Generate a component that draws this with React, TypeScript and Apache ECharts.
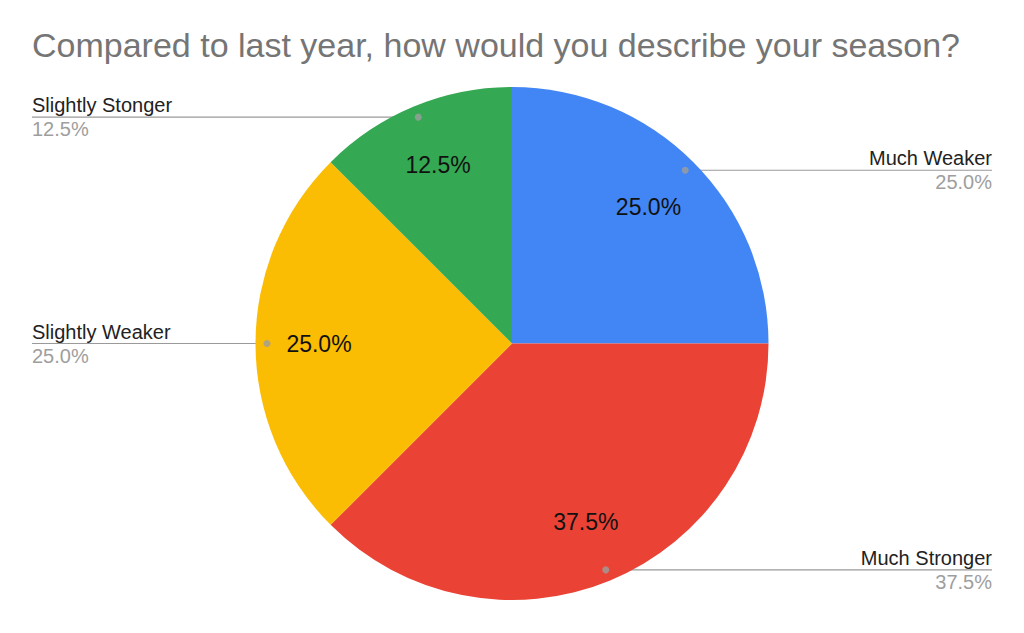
import React, { useEffect, useRef } from "react";
import * as echarts from "echarts";

const titleText = "Compared to last year, how would you describe your season?";
const categories = ["Much Weaker", "Much Stronger", "Slightly Weaker", "Slightly Stonger"];
const counts = [2, 3, 2, 1];
const colors = ["#4285F4", "#EA4335", "#FBBC04", "#34A853"];

const W = 1024;
const H = 633;
const CX = 512;
const CY = 343.5;
const R = 256.5;
const DOT_R = 245;
const LEFT_EDGE = 32;
const RIGHT_EDGE = 992;
const FONT = "'Liberation Sans', Arial, Helvetica, sans-serif";

export default function App() {
  const ref = useRef<HTMLDivElement>(null);
  useEffect(() => {
    document.body.style.margin = "0";
    if (!ref.current) return;
    const chart = echarts.init(ref.current, null, { renderer: "svg" });
    const total = counts.reduce((a, b) => a + b, 0);
    const cum: number[] = [];
    let acc = 0;
    counts.forEach((v) => {
      cum.push(acc + v / 2);
      acc += v;
    });
    const midAngle = (i: number) => (cum[i] / total) * Math.PI * 2;
    const dotPoint = (i: number) => {
      const a = midAngle(i);
      return [CX + DOT_R * Math.sin(a), CY - DOT_R * Math.cos(a)];
    };
    const data = categories.map((c, i) => ({ name: c, value: counts[i], itemStyle: { color: colors[i] } }));

    chart.setOption({
      animation: false,
      backgroundColor: "#ffffff",
      title: {
        text: titleText,
        left: 32,
        top: 28,
        padding: 0,
        textStyle: { fontSize: 34, color: "#757575", fontWeight: "normal", fontFamily: FONT },
      },
      polar: { center: [CX, CY], radius: R },
      angleAxis: {
        type: "value",
        min: 0,
        max: total,
        startAngle: 90,
        clockwise: true,
        show: false,
      },
      radiusAxis: { type: "value", min: 0, max: R, show: false },
      series: [
        {
          type: "pie",
          center: [CX, CY],
          radius: [0, R],
          startAngle: 90,
          clockwise: true,
          percentPrecision: 1,
          data,
          label: {
            show: true,
            position: "outside",
            fontFamily: FONT,
            formatter: (p: any) => `{n|${p.name}}\n{p|${p.percent.toFixed(1)}%}`,
            rich: {
              n: { fontSize: 20, color: "#222222", lineHeight: 24, fontFamily: FONT },
              p: { fontSize: 20, color: "#9e9e9e", lineHeight: 24, fontFamily: FONT },
            },
          },
          labelLine: { show: true, length: 0, length2: 0, lineStyle: { color: "#9a9a9a", width: 1.2 } },
          labelLayout: (params: any) => {
            const i = params.dataIndex;
            const [px, py] = dotPoint(i);
            const right = px >= CX;
            const ex = right ? RIGHT_EDGE : LEFT_EDGE;
            return {
              x: ex,
              y: py,
              align: right ? "right" : "left",
              verticalAlign: "middle",
              labelLinePoints: [
                [px, py],
                [ex, py],
              ],
            };
          },
          emphasis: { disabled: true },
        },
        {
          type: "pie",
          center: [CX, CY],
          radius: [123.5, R],
          startAngle: 90,
          clockwise: true,
          percentPrecision: 1,
          silent: true,
          data: categories.map((c, i) => ({ name: c, value: counts[i] })),
          itemStyle: { color: "rgba(0,0,0,0)" },
          label: {
            show: true,
            position: "inside",
            fontSize: 23,
            color: "#111111",
            fontFamily: FONT,
            formatter: (p: any) => `${p.percent.toFixed(1)}%`,
          },
          labelLine: { show: false },
          emphasis: { disabled: true },
        },
        {
          type: "scatter",
          coordinateSystem: "polar",
          symbol: "circle",
          symbolSize: 7,
          silent: true,
          z: 10,
          itemStyle: { color: "#9e9e9e" },
          data: cum.map((a) => [DOT_R, a]),
        },
      ],
    });
    return () => chart.dispose();
  }, []);
  return <div ref={ref} style={{ width: W, height: H }} />;
}
